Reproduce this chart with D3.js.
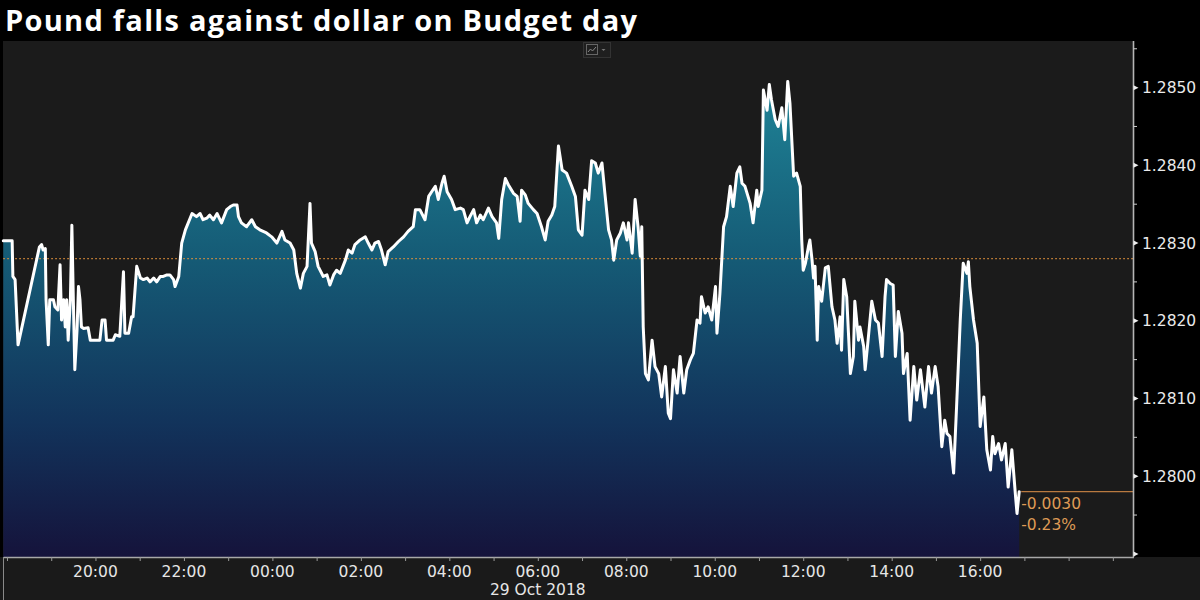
<!DOCTYPE html>
<html><head><meta charset="utf-8">
<script src="https://cdn.jsdelivr.net/npm/d3@7"></script>
<style>html,body{margin:0;padding:0;background:#000;overflow:hidden}svg{display:block}</style>
</head><body><svg id="c" width="1200" height="600"></svg>
<script>
const title = "Pound falls against dollar on Budget day";
const dateLabel = "29 Oct 2018";
const startDay = [2018, 9, 28];
const times = ["17:55","18:07","18:08","18:11","18:15","18:44","18:47","18:49","18:52","18:53","18:56","18:58","19:03","19:05","19:09","19:12","19:14","19:17","19:19","19:21","19:23","19:26","19:28","19:30","19:32","19:35","19:37","19:39","19:41","19:44","19:50","19:53","20:06","20:09","20:13","20:15","20:24","20:27","20:33","20:38","20:40","20:45","20:49","20:51","20:56","21:01","21:05","21:10","21:14","21:19","21:23","21:28","21:32","21:37","21:41","21:46","21:48","21:53","21:57","22:02","22:11","22:17","22:22","22:26","22:31","22:35","22:40","22:45","22:51","22:58","23:03","23:07","23:12","23:14","23:18","23:25","23:32","23:37","23:43","23:52","23:59","00:06","00:13","00:17","00:24","00:29","00:33","00:38","00:42","00:47","00:51","00:53","00:58","01:02","01:09","01:14","01:18","01:23","01:27","01:32","01:39","01:43","01:48","01:52","01:59","02:06","02:10","02:15","02:19","02:24","02:28","02:33","02:37","02:44","02:51","02:58","03:04","03:11","03:14","03:20","03:27","03:32","03:36","03:41","03:45","03:50","03:53","03:57","04:03","04:08","04:15","04:19","04:24","04:28","04:33","04:37","04:42","04:46","04:53","04:58","05:04","05:07","05:11","05:16","05:20","05:27","05:32","05:36","05:38","05:43","05:47","05:54","05:59","06:05","06:10","06:14","06:19","06:23","06:28","06:33","06:39","06:46","06:51","06:55","07:00","07:04","07:09","07:13","07:18","07:22","07:27","07:31","07:36","07:40","07:43","07:47","07:52","07:56","08:01","08:03","08:08","08:12","08:16","08:19","08:21","08:23","08:26","08:30","08:35","08:39","08:44","08:48","08:53","08:57","09:00","09:04","09:09","09:13","09:18","09:22","09:27","09:31","09:36","09:40","09:42","09:47","09:51","09:56","10:01","10:03","10:07","10:12","10:16","10:21","10:25","10:30","10:34","10:37","10:41","10:48","10:52","10:57","10:59","11:04","11:06","11:11","11:14","11:17","11:22","11:26","11:31","11:35","11:39","11:42","11:47","11:51","11:56","11:58","12:00","12:03","12:07","12:09","12:12","12:14","12:16","12:19","12:21","12:25","12:30","12:34","12:39","12:43","12:46","12:50","12:52","12:55","12:59","13:04","13:08","13:10","13:15","13:17","13:22","13:24","13:28","13:33","13:38","13:42","13:47","13:51","13:53","13:58","14:02","14:05","14:09","14:14","14:16","14:21","14:25","14:30","14:34","14:39","14:45","14:50","14:54","14:59","15:03","15:08","15:12","15:15","15:19","15:24","15:28","15:33","15:37","15:42","15:44","15:46","15:51","15:56","16:00","16:05","16:09","16:14","16:17","16:20","16:25","16:29","16:34","16:38","16:43","16:48","16:50","16:53"];
const values = [1.28303,1.28303,1.28257,1.28253,1.28169,1.28295,1.28298,1.28291,1.28293,1.28227,1.28169,1.28227,1.28227,1.28218,1.28214,1.28272,1.28201,1.28227,1.28192,1.28227,1.28175,1.28227,1.28323,1.28227,1.28137,1.28188,1.28244,1.28227,1.28192,1.28190,1.28191,1.28175,1.28175,1.28201,1.28201,1.28175,1.28175,1.28182,1.28180,1.28263,1.28184,1.28184,1.28205,1.28205,1.28270,1.28255,1.28253,1.28255,1.28250,1.28255,1.28250,1.28257,1.28257,1.28259,1.28259,1.28253,1.28244,1.28257,1.28300,1.28317,1.28338,1.28334,1.28338,1.28330,1.28332,1.28336,1.28330,1.28338,1.28326,1.28343,1.28347,1.28349,1.28349,1.28334,1.28326,1.28321,1.28330,1.28321,1.28317,1.28313,1.28308,1.28300,1.28315,1.28304,1.28300,1.28291,1.28261,1.28242,1.28261,1.28270,1.28351,1.28300,1.28289,1.28270,1.28257,1.28259,1.28246,1.28259,1.28265,1.28261,1.28278,1.28291,1.28287,1.28298,1.28304,1.28308,1.28300,1.28291,1.28300,1.28302,1.28291,1.28272,1.28289,1.28295,1.28302,1.28308,1.28315,1.28321,1.28343,1.28343,1.28330,1.28360,1.28366,1.28373,1.28356,1.28377,1.28386,1.28366,1.28356,1.28343,1.28345,1.28343,1.28326,1.28334,1.28343,1.28326,1.28336,1.28330,1.28345,1.28334,1.28326,1.28306,1.28356,1.28383,1.28375,1.28364,1.28360,1.28328,1.28368,1.28362,1.28351,1.28343,1.28338,1.28321,1.28304,1.28328,1.28336,1.28347,1.28425,1.28394,1.28390,1.28373,1.28360,1.28317,1.28310,1.28368,1.28356,1.28406,1.28403,1.28390,1.28403,1.28364,1.28317,1.28304,1.28278,1.28304,1.28313,1.28326,1.28304,1.28326,1.28287,1.28356,1.28321,1.28283,1.28321,1.28192,1.28132,1.28124,1.28175,1.28141,1.28132,1.28102,1.28141,1.28081,1.28074,1.28137,1.28107,1.28154,1.28107,1.28137,1.28150,1.28158,1.28201,1.28197,1.28231,1.28210,1.28218,1.28201,1.28244,1.28184,1.28235,1.28321,1.28334,1.28373,1.28347,1.28390,1.28398,1.28377,1.28373,1.28351,1.28326,1.28368,1.28347,1.28368,1.28497,1.28471,1.28504,1.28484,1.28459,1.28450,1.28474,1.28433,1.28508,1.28480,1.28386,1.28390,1.28373,1.28304,1.28265,1.28274,1.28295,1.28304,1.28278,1.28255,1.28270,1.28175,1.28244,1.28225,1.28268,1.28270,1.28218,1.28201,1.28171,1.28205,1.28162,1.28253,1.28231,1.28132,1.28154,1.28225,1.28175,1.28192,1.28167,1.28137,1.28175,1.28225,1.28201,1.28197,1.28154,1.28231,1.28253,1.28248,1.28246,1.28154,1.28212,1.28184,1.28132,1.28158,1.28072,1.28141,1.28098,1.28137,1.28089,1.28141,1.28107,1.28141,1.28115,1.28038,1.28072,1.28055,1.28051,1.28004,1.28089,1.28201,1.28274,1.28261,1.28276,1.28244,1.28201,1.28171,1.28064,1.28102,1.28034,1.28008,1.28051,1.28029,1.28042,1.28021,1.28042,1.27986,1.28034,1.27974,1.27952,1.27980];
const previousClose = 1.2828;
const yMajorTicks = [1.2790,1.2800,1.2810,1.2820,1.2830,1.2840,1.2850];
const yMinorTicks = [1.2795,1.2805,1.2815,1.2825,1.2835,1.2845,1.2855];
const yTickLabels = ["1.2800","1.2810","1.2820","1.2830","1.2840","1.2850"];
const xTickLabels = ["20:00","22:00","00:00","02:00","04:00","06:00","08:00","10:00","12:00","14:00","16:00"];
const changeLabels = ["-0.0030","-0.23%"];
const timeDomain = ["17:55","19:28"];
const valueDomain = [1.27896, 1.28560];

let day = 0, prev = -1;
const data = times.map((t, i) => {
  const [h, m] = t.split(":").map(Number);
  const mins = h * 60 + m;
  if (prev >= 0 && mins < prev) day++;
  prev = mins;
  return { date: new Date(startDay[0], startDay[1], startDay[2] + day, h, m), value: values[i] };
});
function parseHM(t, d) { const [h, m] = t.split(":").map(Number); return new Date(startDay[0], startDay[1], startDay[2] + d, h, m); }

const L = 3.3, R = 1133.5, T = 41, B = 557;
const x = d3.scaleTime().domain([parseHM(timeDomain[0], 0), parseHM(timeDomain[1], 1)]).range([L, R]);
const y = d3.scaleLinear().domain(valueDomain).range([B, T]);

const svg = d3.select("#c");
const font = "'DejaVu Sans', sans-serif";

svg.append("rect").attr("x", 0).attr("y", 0).attr("width", 1200).attr("height", 600).attr("fill", "#000");
svg.append("rect").attr("x", 3).attr("y", T).attr("width", R - 3).attr("height", B - T).attr("fill", "#1b1b1b");
svg.append("rect").attr("x", 0).attr("y", B).attr("width", 1200).attr("height", 600 - B).attr("fill", "#1a1a1a");
svg.append("line").attr("x1", 3.5).attr("x2", 3.5).attr("y1", B).attr("y2", 600).attr("stroke", "#8a8a8a").attr("stroke-width", 1);

const defs = svg.append("defs");
const grad = defs.append("linearGradient").attr("id", "g").attr("gradientUnits", "userSpaceOnUse")
  .attr("x1", 0).attr("x2", 0).attr("y1", 80).attr("y2", B);
[[0, "#1f8497"], [0.38, "#155a75"], [0.72, "#12335b"], [1, "#15133b"]].forEach(s =>
  grad.append("stop").attr("offset", s[0]).attr("stop-color", s[1]));

const area = d3.area().x(d => x(d.date)).y0(B).y1(d => y(d.value));
svg.append("path").datum(data).attr("d", area).attr("fill", "url(#g)");

svg.append("line").attr("x1", L).attr("x2", R).attr("y1", y(previousClose)).attr("y2", y(previousClose))
  .attr("stroke", "#e0913c").attr("stroke-width", 1.3).attr("stroke-dasharray", "1.5,2.5");

const line = d3.line().x(d => x(d.date)).y(d => y(d.value));
svg.append("path").datum(data).attr("d", line).attr("fill", "none").attr("stroke", "#fff")
  .attr("stroke-width", 3).attr("stroke-linejoin", "round").attr("stroke-linecap", "round");

const last = data[data.length - 1];
svg.append("line").attr("x1", x(last.date) + 2).attr("x2", R).attr("y1", y(last.value)).attr("y2", y(last.value))
  .attr("stroke", "#b97a40").attr("stroke-width", 1.3);
changeLabels.forEach((s, i) => {
  svg.append("text").attr("x", x(last.date) + 2).attr("y", y(last.value) + 17 + i * 21)
    .attr("fill", "#de9a55").style("font-family", font).style("font-size", "15.5px").text(s);
});

svg.append("rect").attr("x", R).attr("y", T).attr("width", 1200 - R).attr("height", B - T).attr("fill", "#000");
svg.append("line").attr("x1", R).attr("x2", R).attr("y1", T).attr("y2", B).attr("stroke", "#b5b5b5").attr("stroke-width", 1.6);
yMajorTicks.forEach(v => {
  const yy = y(v);
  svg.append("path").attr("d", `M${R},${yy - 2.5}L${R + 5},${yy}L${R},${yy + 2.5}Z`).attr("fill", "#eee");
});
yMinorTicks.forEach(v => {
  svg.append("line").attr("x1", R).attr("x2", R + 3.5).attr("y1", y(v)).attr("y2", y(v)).attr("stroke", "#ccc").attr("stroke-width", 1);
});
yTickLabels.forEach(s => {
  svg.append("text").attr("x", 1142).attr("y", y(+s)).attr("dy", "0.36em").attr("fill", "#eaeaea")
    .style("font-family", font).style("font-size", "15.5px").text(s);
});

const xAxis = d3.axisBottom(x).ticks(d3.timeHour.every(1)).tickSize(4).tickFormat("").tickSizeOuter(0);
const gx = svg.append("g").attr("transform", `translate(0,${B})`).call(xAxis);
gx.select(".domain").attr("stroke", "#a8a8a8").attr("stroke-width", 1.3);
gx.selectAll(".tick line").attr("stroke", "#9a9a9a");
xTickLabels.forEach(s => {
  const d = parseHM(s, s >= "18:00" ? 0 : 1);
  svg.append("text").attr("x", x(d)).attr("y", 577).attr("text-anchor", "middle").attr("fill", "#e6e6e6")
    .style("font-family", font).style("font-size", "15.5px").text(s);
});
svg.append("text").attr("x", x(parseHM("06:00", 1))).attr("y", 595).attr("text-anchor", "middle").attr("fill", "#e6e6e6")
  .style("font-family", font).style("font-size", "15.5px").text(dateLabel);

const ic = svg.append("g");
ic.append("rect").attr("x", 583.5).attr("y", 42.5).attr("width", 27).attr("height", 15).attr("fill", "#1f1f1f").attr("stroke", "#333");
ic.append("rect").attr("x", 586.5).attr("y", 44.5).attr("width", 11).attr("height", 10).attr("fill", "none").attr("stroke", "#666");
ic.append("path").attr("d", "M588,52L590.5,49L592.5,51L596,47").attr("fill", "none").attr("stroke", "#888").attr("stroke-width", 1);
ic.append("path").attr("d", "M601.5,49L605.5,49L603.5,51Z").attr("fill", "#777");

// title: near-natural size, small letter-spacing to reach the reference width
const tt = svg.append("text").attr("x", 5).attr("y", 31).attr("fill", "#fff")
  .style("font-family", "'Open Sans', sans-serif").style("font-weight", 700).style("font-size", "29px").text(title);
const tw = tt.node().getComputedTextLength();
tt.style("letter-spacing", ((632 - tw) / (title.length - 1)) + "px");
</script>
</body></html>
